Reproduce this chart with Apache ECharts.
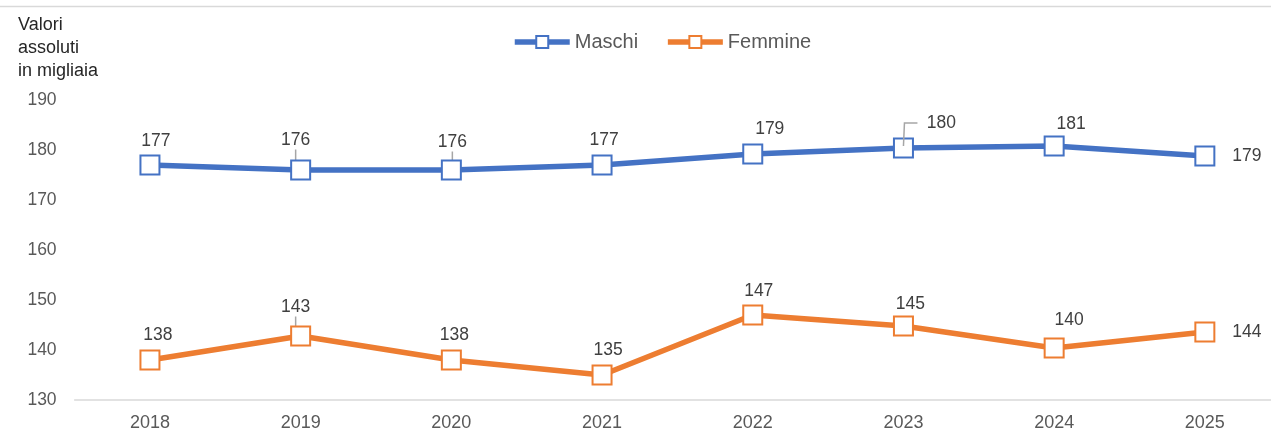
<!DOCTYPE html>
<html>
<head>
<meta charset="utf-8">
<script src="https://cdn.jsdelivr.net/npm/echarts@6/dist/echarts.min.js"></script>
<style>
  html, body { margin: 0; padding: 0; background: #fff; }
  #chart { width: 1271px; height: 432px; }
</style>
</head>
<body>
<div id="chart"></div>
<script>
// values in thousands
const years = ['2018', '2019', '2020', '2021', '2022', '2023', '2024', '2025'];
const maschi = [177, 176, 176, 177, 179.2, 180.4, 180.8, 178.8];
const femmine = [138, 142.8, 138, 135, 147, 144.8, 140.4, 143.6];
const yTicks = [130, 140, 150, 160, 170, 180, 190];

// points whose label has a small leader line in the original
const maschiLeader = [1, 2];
const femmineLeader = [1];

// hand-placed label nudges [dx, dy] as in the original chart
const maschiNudge = [[6, 1], [-5, -5], [1, -3], [2, 0], [17, 0], [38, 0], [17, 3], [0, 0]];
const femmineNudge = [[8, 0], [-5, -4], [3, 0], [6, 0], [6, 1], [7, 3], [15, -3], [0, 0]];

const BLUE = '#4472C4';
const ORANGE = '#ED7D31';
const TEXT = '#595959';
const LABEL = '#404040';
const FONT = 'Liberation Sans, Arial, sans-serif';

let chart = echarts.init(document.getElementById('chart'));

function buildData(values, leaders) {
    return values.map((v, i) => {
        let item = { value: v };
        if (leaders.indexOf(i) >= 0) {
            item.labelLine = { show: true, lineStyle: { color: '#a6a6a6', width: 1.5 } };
        }
        if (i === values.length - 1) {
            item.label = { position: 'right', distance: 17 };
        }
        return item;
    });
}

function makeSeries(name, color, values, leaders, nudge) {
    return {
        name: name,
        type: 'line',
        data: buildData(values, leaders),
        symbol: 'rect',
        symbolSize: 19,
        showAllSymbol: true,
        lineStyle: { color: color, width: 5.5 },
        itemStyle: { color: '#ffffff', borderColor: color, borderWidth: 2 },
        label: {
            show: true,
            position: 'top',
            distance: 5,
            color: LABEL,
            fontFamily: FONT,
            fontSize: 17.5,
            formatter: p => Math.round(p.value)
        },
        labelLayout: function (p) {
            let n = nudge[p.dataIndex];
            return { dx: n[0], dy: n[1] };
        },
        emphasis: { disabled: true },
        z: 3
    };
}

let option = {
    animation: false,
    backgroundColor: '#ffffff',
    textStyle: { fontFamily: FONT },
    grid: {
        left: 74.6, width: 1205.6, top: 100, bottom: 32,
        containLabel: false, outerBoundsMode: 'none'
    },
    legend: {
        top: 27,
        left: 507,
        itemWidth: 55,
        itemHeight: 15,
        itemGap: 27,
        lineStyle: { width: 5.5 },
        textStyle: { color: TEXT, fontSize: 20, fontFamily: FONT },
        data: ['Maschi', 'Femmine']
    },
    graphic: [
        {
            id: 'topRule',
            type: 'line',
            shape: { x1: 0, y1: 6.5, x2: 1271, y2: 6.5 },
            style: { stroke: '#d9d9d9', lineWidth: 1.5 }
        },
        {
            id: 'unitTitle',
            type: 'text',
            left: 18,
            top: 14,
            style: {
                text: 'Valori\nassoluti\nin migliaia',
                fill: '#262626',
                font: '18px ' + FONT,
                lineHeight: 23
            }
        }
    ],
    xAxis: {
        type: 'category',
        data: years,
        boundaryGap: true,
        axisLine: { lineStyle: { color: '#d9d9d9', width: 1.5 } },
        axisTick: { show: false },
        axisLabel: { color: TEXT, fontSize: 18, margin: 14, fontFamily: FONT }
    },
    yAxis: {
        type: 'value',
        min: yTicks[0],
        max: yTicks[yTicks.length - 1],
        interval: 10,
        axisLine: { show: false },
        axisTick: { show: false },
        splitLine: { show: false },
        axisLabel: { color: TEXT, fontSize: 17.5, margin: 18, fontFamily: FONT }
    },
    series: [
        makeSeries('Maschi', BLUE, maschi, maschiLeader, maschiNudge),
        makeSeries('Femmine', ORANGE, femmine, femmineLeader, femmineNudge)
    ]
};

chart.setOption(option);

// elbow leader for the moved 2023 label, anchored on the point's pixel position
let p23 = chart.convertToPixel({ seriesIndex: 0 }, [5, maschi[5]]);
chart.setOption({
    graphic: [{
        id: 'leader2023',
        type: 'polyline',
        z: 10,
        shape: { points: [[p23[0] + 14, p23[1] - 25], [p23[0] + 1, p23[1] - 25], [p23[0], p23[1] - 2]] },
        style: { stroke: '#a6a6a6', lineWidth: 1.5, fill: null }
    }]
});
</script>
</body>
</html>
